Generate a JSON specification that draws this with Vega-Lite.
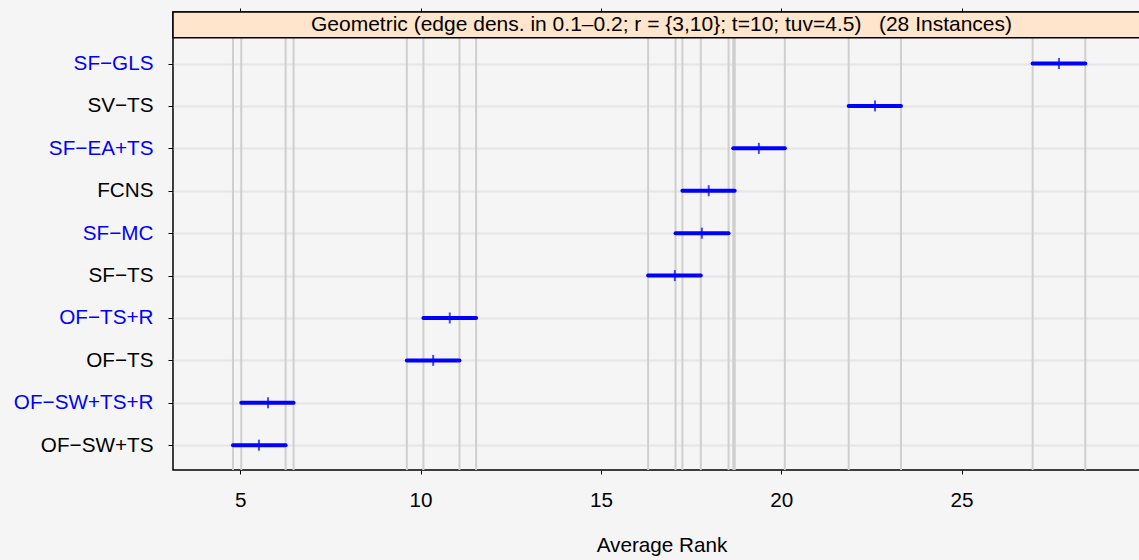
{
  "$schema": "https://vega.github.io/schema/vega-lite/v6.json",
  "background": "#f5f5f5",
  "autosize": {"type": "none"},
  "padding": {"left": 173, "top": 12, "right": -11, "bottom": 90},
  "width": 977,
  "height": 458,
  "config": {
    "font": "Liberation Sans",
    "view": {"stroke": "black", "strokeWidth": 1.5}
  },
  "datasets": {
    "ranks": [
      {"method": "SF−GLS", "lo": 26.97, "mean": 27.70, "hi": 28.43},
      {"method": "SV−TS", "lo": 21.87, "mean": 22.60, "hi": 23.32},
      {"method": "SF−EA+TS", "lo": 18.67, "mean": 19.38, "hi": 20.10},
      {"method": "FCNS", "lo": 17.26, "mean": 17.99, "hi": 18.71},
      {"method": "SF−MC", "lo": 17.07, "mean": 17.80, "hi": 18.54},
      {"method": "SF−TS", "lo": 16.31, "mean": 17.05, "hi": 17.77},
      {"method": "OF−TS+R", "lo": 10.08, "mean": 10.81, "hi": 11.54},
      {"method": "OF−TS", "lo": 9.62, "mean": 10.35, "hi": 11.08},
      {"method": "OF−SW+TS+R", "lo": 5.03, "mean": 5.77, "hi": 6.48},
      {"method": "OF−SW+TS", "lo": 4.80, "mean": 5.52, "hi": 6.26}
    ],
    "strip": [
      {"title": "Geometric (edge dens. in 0.1–0.2; r = {3,10}; t=10; tuv=4.5)\u00a0\u00a0\u00a0(28 Instances)"}
    ]
  },
  "data": {"name": "ranks"},
  "resolve": {"scale": {"y": "independent"}, "axis": {"x": "independent", "y": "independent"}},
  "layer": [
    {
      "mark": {"type": "rule", "color": "#cfcfcf", "strokeWidth": 2},
      "encoding": {
        "x": {
          "field": "lo", "type": "quantitative",
          "scale": {"domain": [3.137, 30.224], "nice": false, "zero": false},
          "axis": {
            "orient": "bottom", "values": [5, 10, 15, 20, 25], "grid": false, "domain": false,
            "tickColor": "#000000", "tickSize": 4, "tickWidth": 1,
            "labelFontSize": 20.7, "labelColor": "#000000", "labelPadding": 16,
            "title": "Average Rank", "titleFontSize": 20.7, "titleFontWeight": "normal",
            "titleColor": "#000000", "titlePadding": 26
          }
        }
      }
    },
    {
      "mark": {"type": "rule", "color": "#cfcfcf", "strokeWidth": 2},
      "encoding": {
        "x": {
          "field": "hi", "type": "quantitative",
          "axis": {
            "orient": "top", "values": [5, 10, 15, 20, 25], "grid": false, "domain": false,
            "labels": false, "tickColor": "#000000", "tickSize": 4, "tickWidth": 1, "title": null
          }
        }
      }
    },
    {
      "layer": [
        {
          "mark": {"type": "rule", "color": "#0000ff", "strokeWidth": 4, "strokeCap": "round"},
          "encoding": {
            "x": {"field": "lo", "type": "quantitative", "axis": null},
            "x2": {"field": "hi"}
          }
        },
        {
          "mark": {"type": "tick", "color": "#0000ff", "orient": "vertical", "size": 11, "thickness": 2},
          "encoding": {
            "x": {"field": "mean", "type": "quantitative", "axis": null}
          }
        }
      ],
      "encoding": {
        "y": {
          "field": "method", "type": "nominal", "sort": null,
          "scale": {"type": "point", "padding": 0.9, "align": 0.675},
          "axis": {
            "title": null, "domain": false, "grid": true, "gridColor": "#e6e6e6", "gridWidth": 2,
            "tickColor": "#000000", "tickSize": 5, "tickWidth": 1,
            "labelFontSize": 20.7, "labelPadding": 15,
            "labelColor": {
              "condition": {"test": "indexof(['SF−GLS','SF−EA+TS','SF−MC','OF−TS+R','OF−SW+TS+R'], datum.value) >= 0", "value": "#0000ff"},
              "value": "#000000"
            }
          }
        }
      }
    },
    {
      "data": {"name": "strip"},
      "layer": [
        {"mark": {"type": "rect", "fill": "#ffe5cc", "stroke": "#000000", "strokeWidth": 1.5}},
        {"mark": {"type": "text", "fontSize": 21, "color": "#000000", "align": "center", "baseline": "middle"},
         "encoding": {"text": {"field": "title", "type": "nominal"}}}
      ],
      "encoding": {
        "y": {
          "field": "title", "type": "nominal",
          "scale": {"type": "band", "paddingInner": 0.8811, "paddingOuter": 1, "align": 0},
          "axis": null
        }
      }
    }
  ]
}
